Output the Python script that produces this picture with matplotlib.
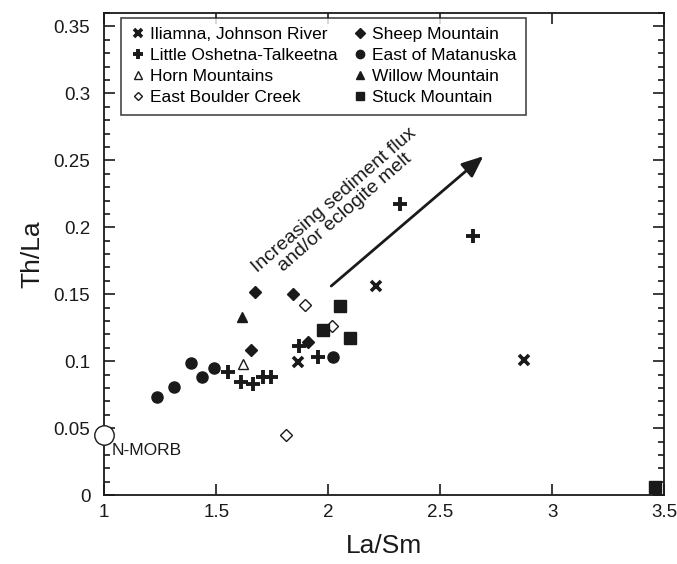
import numpy as np
import matplotlib
matplotlib.use("Agg")
import matplotlib.pyplot as plt
from matplotlib.ticker import MultipleLocator

plt.rcParams['font.family'] = ['Liberation Sans', 'DejaVu Sans']

# La/Sm (x) and Th/La (y)
iliamna_x = [1.865, 2.212, 2.875]
iliamna_y = [0.0996, 0.1559, 0.1007]

oshetna_x = [1.552, 1.610, 1.662, 1.710, 1.744, 1.871, 1.954, 2.321, 2.648]
oshetna_y = [0.0920, 0.0843, 0.0829, 0.0886, 0.0886, 0.1117, 0.1028, 0.2172, 0.1938]

horn_x = [1.621]
horn_y = [0.0982]

boulder_x = [1.810, 1.898, 2.017]
boulder_y = [0.0450, 0.1419, 0.1262]

sheep_x = [1.671, 1.844, 1.654, 1.910]
sheep_y = [0.1518, 0.1505, 0.1085, 0.1141]

matanuska_x = [1.235, 1.313, 1.388, 1.437, 1.492, 2.021]
matanuska_y = [0.0732, 0.0805, 0.0990, 0.0886, 0.0950, 0.1034]

willow_x = [1.613]
willow_y = [0.1332]

stuck_x = [2.052, 1.977, 2.098, 3.458]
stuck_y = [0.1413, 0.1230, 0.1171, 0.0059]

nmorb_x = [1.0]
nmorb_y = [0.045]

k = '#1a1a1a'

fig = plt.figure(figsize=(6.77, 5.64), dpi=100)
ax = fig.add_axes([0.154, 0.122, 0.827, 0.855])

ax.plot(iliamna_x, iliamna_y, 'x', color=k, ms=7, mew=2.6, label='Iliamna, Johnson River')
ax.plot(oshetna_x, oshetna_y, '+', color=k, ms=10.5, mew=2.8, label='Little Oshetna-Talkeetna')
ax.plot(horn_x, horn_y, '^', mfc='white', mec=k, ms=7.5, mew=1, label='Horn Mountains')
ax.plot(boulder_x, boulder_y, 'D', mfc='white', mec=k, ms=6, mew=1, label='East Boulder Creek')
ax.plot(sheep_x, sheep_y, 'D', color=k, ms=6.5, label='Sheep Mountain')
ax.plot(matanuska_x, matanuska_y, 'o', color=k, ms=8, label='East of Matanuska')
ax.plot(willow_x, willow_y, '^', color=k, ms=7.5, label='Willow Mountain')
ax.plot(stuck_x, stuck_y, 's', color=k, ms=8, label='Stuck Mountain')

# N-MORB reference point
ax.plot(nmorb_x, nmorb_y, 'o', mfc='white', mec=k, ms=14, mew=1, clip_on=False, zorder=5)
ax.text(1.035, 0.033, 'N-MORB', fontsize=12.5, color=k, va='center', ha='left')

# trend arrow and label
ax.annotate('', xy=(2.702, 0.2544), xytext=(2.004, 0.1548),
            arrowprops=dict(arrowstyle='-|>,head_length=1.3,head_width=0.55', color=k, lw=2))
ax.text(2.05, 0.2155, 'Increasing sediment flux\nand/or eclogite melt', fontsize=14,
        color=k, rotation=41, rotation_mode='anchor', ha='center', va='center',
        linespacing=0.95)

ax.set_xlim(1, 3.5)
ax.set_ylim(0, 0.36)
ax.set_xticks([1, 1.5, 2, 2.5, 3, 3.5])
ax.set_xticklabels(['1', '1.5', '2', '2.5', '3', '3.5'])
ax.set_yticks([0, 0.05, 0.1, 0.15, 0.2, 0.25, 0.3, 0.35])
ax.set_yticklabels(['0', '0.05', '0.1', '0.15', '0.2', '0.25', '0.3', '0.35'])
ax.yaxis.set_minor_locator(MultipleLocator(0.01))
ax.tick_params(which='both', direction='in', top=True, right=True, labelsize=13.5, colors=k)
ax.tick_params(axis='y', which='both', pad=10)
ax.tick_params(axis='x', which='both', pad=6)
ax.tick_params(which='major', length=8, width=1.2)
ax.tick_params(which='minor', length=4, width=1.2)
for s in ax.spines.values():
    s.set_linewidth(1.3)
    s.set_color(k)

ax.set_xlabel('La/Sm', fontsize=19, color=k, labelpad=10)
ax.set_ylabel('Th/La', fontsize=19, color=k, labelpad=7)

leg = ax.legend(ncol=2, loc='upper left', bbox_to_anchor=(0.03, 0.99), borderaxespad=0,
                fontsize=12.5, frameon=True, fancybox=False, edgecolor=k,
                handlelength=0.8, handletextpad=0.3, columnspacing=0.9,
                labelspacing=0.33, markerscale=0.75, borderpad=0.55)
leg.get_frame().set_linewidth(1.2)

fig.savefig('out.png', dpi=100)
